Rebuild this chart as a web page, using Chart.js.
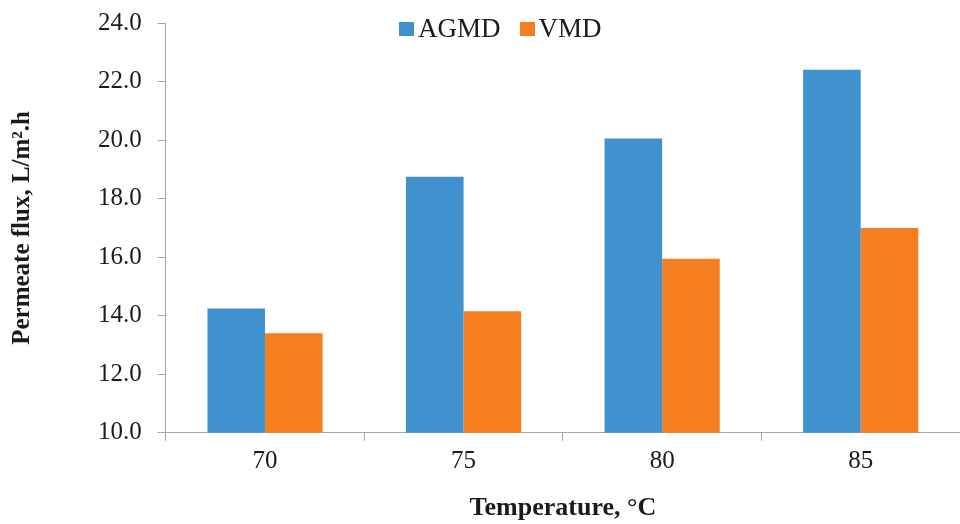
<!DOCTYPE html>
<html>
<head>
<meta charset="utf-8">
<script src="https://cdn.jsdelivr.net/npm/chart.js@4.4.1/dist/chart.umd.min.js"></script>
<style>
  html, body { margin: 0; padding: 0; background: #fff; }
  #wrap { position: relative; width: 960px; height: 524px; }
  #legend { position: absolute; top: 13px; left: 399px; font-family: "Liberation Serif", serif; font-size: 27px; color: #1a1a1a; display: flex; align-items: center; white-space: nowrap; }
  #legend .item { display: flex; align-items: center; }
  #legend .box { width: 15px; height: 14px; margin-right: 4px; }
</style>
</head>
<body>
<div id="wrap">
  <canvas id="c" width="960" height="524"></canvas>
  <div id="legend"></div>
</div>
<script>
const categories = ["70", "75", "80", "85"];
const seriesNames = ["AGMD", "VMD"];
const agmdValues = [14.25, 18.75, 20.05, 22.4];
const vmdValues = [13.4, 14.15, 15.95, 17.0];
const yTickValues = [10, 12, 14, 16, 18, 20, 22, 24];
const seriesColors = ["#4191cf", "#f57e20"];

// HTML legend
const legendEl = document.getElementById('legend');
seriesNames.forEach((name, i) => {
  const item = document.createElement('div');
  item.className = 'item';
  item.style.marginRight = i === 0 ? '19px' : '0';
  const box = document.createElement('div');
  box.className = 'box';
  box.style.background = seriesColors[i];
  const txt = document.createElement('span');
  txt.textContent = name;
  item.appendChild(box);
  item.appendChild(txt);
  legendEl.appendChild(item);
});

const axisColor = '#a6a6a6';
const textColor = '#1a1a1a';

new Chart(document.getElementById('c'), {
  type: 'bar',
  data: {
    labels: categories,
    datasets: [
      { label: seriesNames[0], data: agmdValues, backgroundColor: seriesColors[0], categoryPercentage: 0.58, barPercentage: 1.0 },
      { label: seriesNames[1], data: vmdValues, backgroundColor: seriesColors[1], categoryPercentage: 0.58, barPercentage: 1.0 }
    ]
  },
  options: {
    responsive: false,
    animation: false,
    devicePixelRatio: 1,
    layout: { padding: { left: 0, right: 0, top: 23, bottom: 0 } },
    plugins: { legend: { display: false }, tooltip: { enabled: false } },
    scales: {
      x: {
        grid: { drawOnChartArea: false, drawTicks: true, tickLength: 8, color: axisColor, offset: true },
        border: { display: true, color: axisColor, width: 1 },
        ticks: { font: { family: 'Liberation Serif', size: 25 }, color: textColor, padding: 6 },
        title: { display: true, text: 'Temperature, °C', font: { family: 'Liberation Serif', size: 26, weight: 'bold' }, color: textColor, padding: { top: 10, bottom: 0 } },
        afterFit: (scale) => { scale.paddingLeft = 0; scale.paddingRight = 0; }
      },
      y: {
        min: 10, max: 24,
        afterBuildTicks: (axis) => { axis.ticks = yTickValues.map(v => ({ value: v })); },
        grid: { drawOnChartArea: false, drawTicks: true, tickLength: 8, color: axisColor },
        border: { display: true, color: axisColor, width: 1 },
        ticks: { font: { family: 'Liberation Serif', size: 25 }, color: textColor, padding: 16, callback: (v) => Number(v).toFixed(1) },
        title: { display: true, text: 'Permeate flux, L/m².h', font: { family: 'Liberation Serif', size: 25, weight: 'bold' }, color: textColor, padding: { top: 8, bottom: 44 } },
        afterFit: (scale) => { scale.paddingTop = 0; scale.paddingBottom = 0; }
      }
    }
  }
});
</script>
</body>
</html>
